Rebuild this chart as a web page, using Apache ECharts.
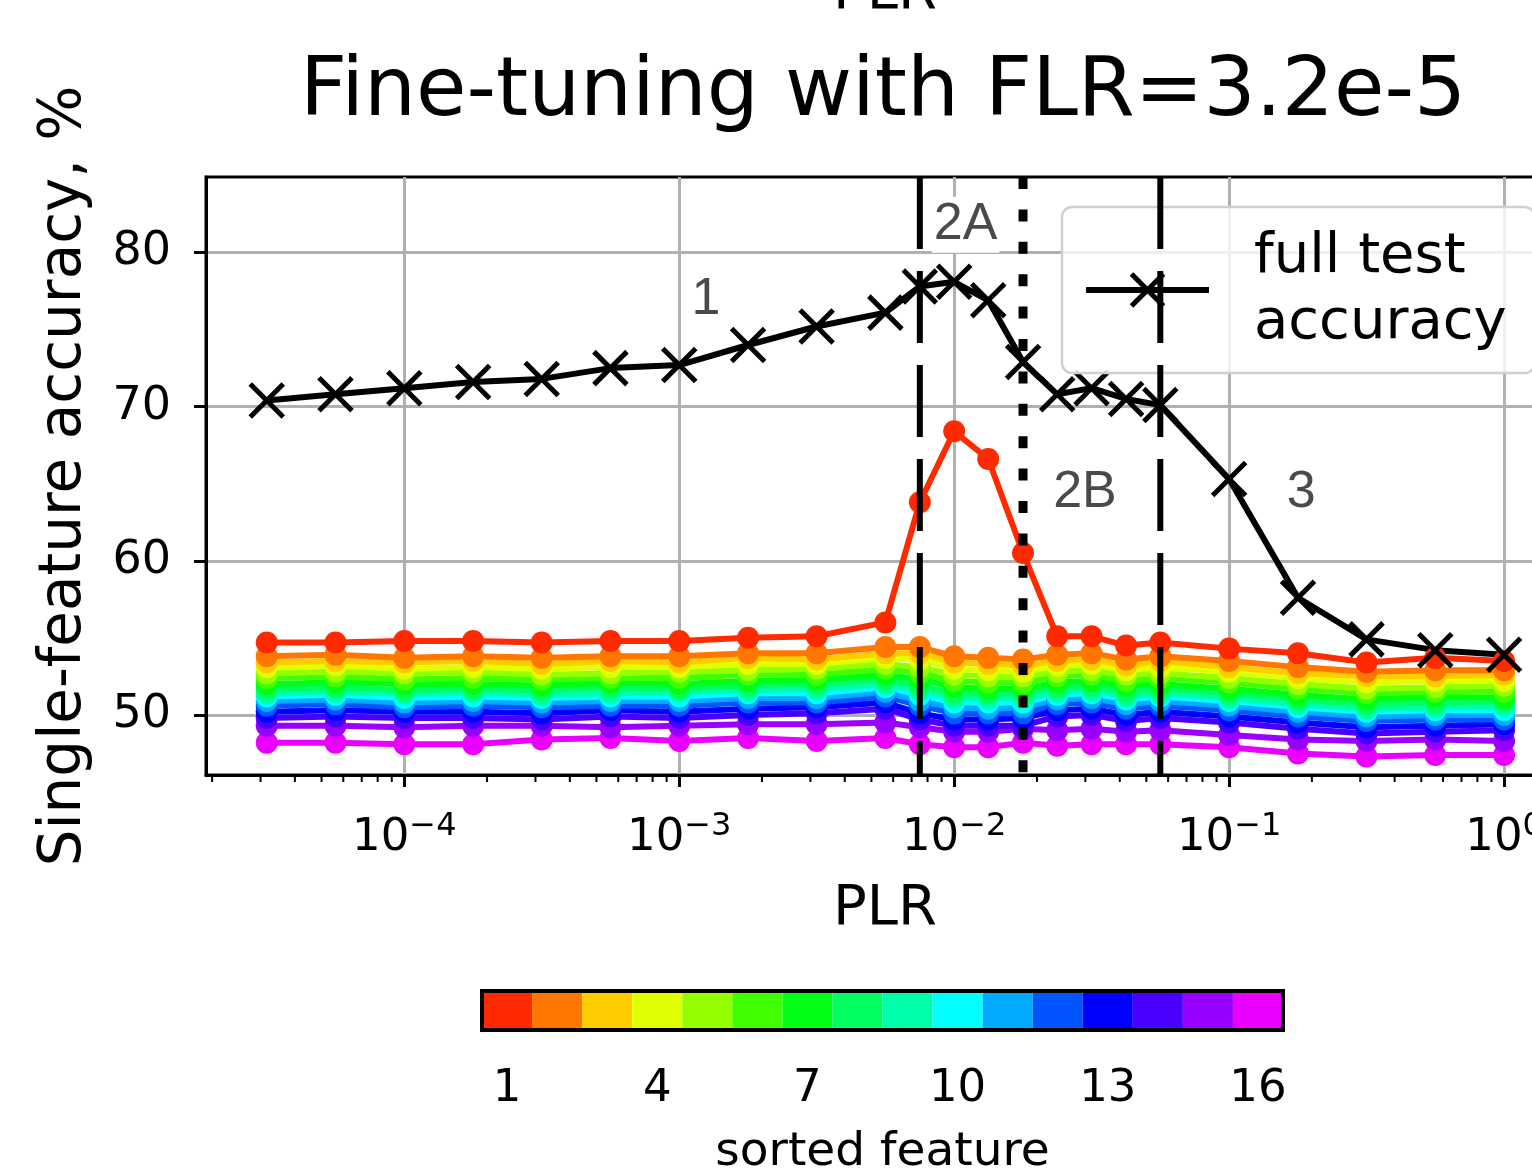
<!DOCTYPE html>
<html>
<head>
<meta charset="utf-8">
<script src="https://cdn.jsdelivr.net/npm/echarts@6/dist/echarts.min.js"></script>
<style>html,body{margin:0;padding:0;background:#fff}#chart{width:1532px;height:1174px}</style>
</head>
<body>
<div id="chart"></div>
<script>
// PLR values (x)
var plr = [3.16e-5, 5.62e-5, 1e-4, 1.78e-4, 3.16e-4, 5.62e-4, 1e-3, 1.78e-3, 3.16e-3, 5.62e-3,
    7.5e-3, 1e-2, 1.33e-2, 1.78e-2, 2.37e-2, 3.16e-2, 4.22e-2, 5.62e-2, 0.1, 0.178, 0.316, 0.562, 1];
// full test accuracy
var fullAcc = [70.4, 70.8, 71.2, 71.6, 71.8, 72.5, 72.7, 74.0, 75.2, 76.1, 77.8, 78.1, 76.9, 72.9,
    70.8, 71.2, 70.5, 70.1, 65.3, 57.6, 54.9, 54.2, 53.9];
// single feature accuracies, sorted feature 1..16
var f1 = [54.7, 54.7, 54.8, 54.8, 54.7, 54.8, 54.8, 55.0, 55.1, 56.0, 63.8, 68.4, 66.6, 60.5, 55.1, 55.1, 54.5, 54.7, 54.3, 54.0, 53.4, 53.7, 53.5];
var f2 = [53.8, 53.9, 53.7, 53.8, 53.7, 53.8, 53.8, 54.0, 54.0, 54.4, 54.4, 53.8, 53.7, 53.6, 53.9, 54.0, 53.6, 53.8, 53.5, 53.1, 52.8, 52.9, 52.9];
var f3 = [53.4, 53.5, 53.4, 53.5, 53.3, 53.5, 53.4, 53.7, 53.6, 54.0, 54.0, 53.4, 53.3, 53.2, 53.5, 53.6, 53.2, 53.5, 53.1, 52.7, 52.5, 52.5, 52.6];
var f4 = [53.1, 53.2, 53.0, 53.1, 53.0, 53.1, 53.1, 53.3, 53.3, 53.7, 53.6, 53.0, 52.9, 52.8, 53.2, 53.3, 52.9, 53.1, 52.8, 52.4, 52.1, 52.2, 52.2];
var f5 = [52.7, 52.8, 52.7, 52.8, 52.6, 52.7, 52.8, 52.9, 53.0, 53.3, 53.1, 52.6, 52.5, 52.5, 52.8, 52.9, 52.6, 52.7, 52.4, 52.0, 51.7, 51.8, 51.9];
var f6 = [52.4, 52.5, 52.3, 52.4, 52.3, 52.4, 52.4, 52.6, 52.6, 53.0, 52.7, 52.2, 52.1, 52.1, 52.5, 52.6, 52.2, 52.4, 52.1, 51.7, 51.4, 51.5, 51.5];
var f7 = [52.0, 52.1, 52.0, 52.0, 51.9, 52.1, 52.0, 52.2, 52.3, 52.6, 52.3, 51.8, 51.7, 51.7, 52.1, 52.2, 51.9, 52.0, 51.7, 51.3, 51.0, 51.2, 51.1];
var f8 = [51.7, 51.8, 51.6, 51.7, 51.6, 51.8, 51.7, 51.9, 52.0, 52.3, 51.9, 51.4, 51.4, 51.4, 51.8, 51.9, 51.5, 51.7, 51.4, 51.0, 50.7, 50.8, 50.9];
var f9 = [51.4, 51.5, 51.4, 51.5, 51.3, 51.4, 51.5, 51.6, 51.7, 52.0, 51.6, 51.1, 51.1, 51.1, 51.5, 51.6, 51.2, 51.4, 51.1, 50.7, 50.4, 50.5, 50.6];
var f10 = [51.2, 51.3, 51.1, 51.2, 51.1, 51.2, 51.2, 51.4, 51.4, 51.8, 51.3, 50.8, 50.8, 50.8, 51.3, 51.4, 51.0, 51.2, 50.9, 50.5, 50.2, 50.3, 50.3];
var f11 = [50.9, 51.0, 50.8, 50.9, 50.8, 50.9, 50.9, 51.1, 51.1, 51.5, 50.9, 50.5, 50.4, 50.5, 51.0, 51.1, 50.7, 50.9, 50.6, 50.2, 49.9, 50.0, 50.0];
var f12 = [50.6, 50.7, 50.5, 50.6, 50.5, 50.6, 50.6, 50.8, 50.8, 51.2, 50.6, 50.1, 50.1, 50.1, 50.7, 50.8, 50.4, 50.6, 50.3, 49.9, 49.6, 49.7, 49.7];
var f13 = [50.2, 50.3, 50.2, 50.2, 50.1, 50.3, 50.2, 50.4, 50.5, 50.8, 50.1, 49.7, 49.7, 49.8, 50.3, 50.4, 50.0, 50.2, 49.9, 49.5, 49.2, 49.3, 49.4];
var f14 = [49.8, 49.9, 49.8, 49.8, 49.7, 49.9, 49.8, 50.0, 50.1, 50.4, 49.7, 49.3, 49.3, 49.3, 49.9, 50.0, 49.6, 49.8, 49.5, 49.1, 48.8, 48.9, 49.0];
var f15 = [49.3, 49.3, 49.2, 49.3, 49.3, 49.2, 49.3, 49.4, 49.4, 49.5, 49.2, 48.9, 48.9, 49.1, 49.0, 49.1, 48.9, 49.0, 48.7, 48.4, 48.3, 48.4, 48.3];
var f16 = [48.2, 48.2, 48.1, 48.1, 48.4, 48.5, 48.3, 48.5, 48.3, 48.5, 48.1, 47.9, 47.9, 48.2, 48.0, 48.1, 48.1, 48.1, 47.9, 47.5, 47.3, 47.4, 47.4];
var feats = [f1, f2, f3, f4, f5, f6, f7, f8, f9, f10, f11, f12, f13, f14, f15, f16];
var featColors = ['#ff2a00', '#ff7700', '#ffcc00', '#e0ff00', '#95ff00', '#40ff00', '#00ff15', '#00ff5f',
    '#00ffaa', '#00ffff', '#00aaff', '#0055ff', '#0000ff', '#4a00ff', '#9900ff', '#ea00ff'];
var featLabels = ['1', '2', '3', '4', '5', '6', '7', '8', '9', '10', '11', '12', '13', '14', '15', '16'];
// phase boundaries
var dashedAt = [7.5e-3, 5.62e-2];
var dottedAt = [1.78e-2];
// region labels
var regions = [[1.25e-3, 76.95, '1'], [1.1e-2, 81.8, '2A'], [2.99e-2, 64.45, '2B'], [0.183, 64.45, '3']];
var xMajor = [1e-4, 1e-3, 1e-2, 1e-1, 1];
var yMajor = [50, 60, 70, 80];

// axes run a little past the right edge of the picture
var X_MIN = 1.9e-5, X_MAX = 1.652, Y_MIN = 46.1, Y_MAX = 84.9;
var FONT = 'DejaVu Sans';

function pair(ys) {
    var out = [];
    for (var i = 0; i < plr.length; i++) out.push([plr[i], ys[i]]);
    return out;
}
var minor = [];
for (var d = -5; d <= 0; d++) {
    for (var m = 2; m <= 9; m++) {
        var v = m * Math.pow(10, d);
        if (v > X_MIN && v < X_MAX) minor.push([v, Y_MIN]);
    }
}

var series = [];
for (var k = feats.length - 1; k >= 0; k--) {
    series.push({
        type: 'line', name: 'f' + (k + 1), data: pair(feats[k]),
        symbol: 'circle', symbolSize: 22, showSymbol: true,
        lineStyle: { color: featColors[k], width: 6 },
        itemStyle: { color: featColors[k] },
        silent: true, animation: false
    });
}
series.push({
    type: 'line', name: 'full test\naccuracy', data: pair(fullAcc),
    symbol: 'path://M0,0L10,10M10,0L0,10', symbolSize: 33,
    lineStyle: { color: '#000', width: 6 },
    itemStyle: { color: '#000', borderColor: '#000', borderWidth: 5 },
    z: 3, animation: false
});
dashedAt.forEach(function (v) {
    series.push({
        type: 'line', data: [[v, Y_MAX], [v, Y_MIN]], symbol: 'none',
        lineStyle: { color: '#000', width: 6, type: [72, 22], cap: 'butt' }, z: 4, animation: false
    });
});
dottedAt.forEach(function (v) {
    series.push({
        type: 'line', data: [[v, Y_MAX], [v, Y_MIN]], symbol: 'none',
        lineStyle: { color: '#000', width: 9, type: [12, 20.4], cap: 'butt' }, z: 4, animation: false
    });
});
series.push({
    type: 'scatter', data: regions, symbolSize: 1, itemStyle: { color: 'transparent' }, z: 5,
    label: {
        show: true, position: 'inside', formatter: function (p) { return p.value[2]; },
        fontFamily: 'Liberation Sans', fontSize: 52, color: '#4a4a4a', opacity: 1,
        textBorderWidth: 0, backgroundColor: '#fff', padding: [2, 2]
    },
    animation: false
});
series.push({
    type: 'custom', data: minor, clip: false, z: 3,
    renderItem: function (params, api) {
        var p = api.coord([api.value(0), api.value(1)]);
        return { type: 'line', shape: { x1: p[0], y1: p[1], x2: p[0], y2: p[1] + 7 }, style: { stroke: '#000', lineWidth: 2 } };
    },
    animation: false
});
series.push({
    type: 'bar', xAxisIndex: 1, yAxisIndex: 1, barWidth: '100%',
    data: featColors.map(function (c) { return { value: 1, itemStyle: { color: c } }; }),
    animation: false
});

var chart = echarts.init(document.getElementById('chart'));
chart.setOption({
    backgroundColor: '#fff',
    title: {
        text: 'Fine-tuning with FLR=3.2e-5', left: 300, top: 53, padding: 0,
        textStyle: { fontFamily: FONT, fontSize: 82, fontWeight: 'normal', color: '#000' }
    },
    graphic: [{
        type: 'text', style: { x: 885, y: 21, text: 'PLR', align: 'center', verticalAlign: 'bottom', font: '56px "DejaVu Sans"', fill: '#000' }
    }],
    legend: {
        data: ['full test\naccuracy'], left: 1062, top: 207, orient: 'vertical',
        padding: [17, 28, 17, 21], itemWidth: 123, itemHeight: 40,
        backgroundColor: 'rgba(255,255,255,0.8)', borderColor: '#d0d0d0', borderWidth: 2.5, borderRadius: 10,
        lineStyle: { color: '#000', width: 6 },
        itemStyle: { color: '#000', borderColor: '#000', borderWidth: 5 },
        textStyle: { fontFamily: FONT, fontSize: 56, lineHeight: 66, color: '#000', padding: [0, 0, 0, 40] }
    },
    grid: [
        { left: 206, top: 177, width: 1358, height: 598, show: true, borderColor: '#000', borderWidth: 3, outerBoundsMode: 'none' },
        { left: 482, top: 991, width: 801, height: 39, show: true, borderColor: '#000', borderWidth: 4, z: 5, outerBoundsMode: 'none' }
    ],
    xAxis: [{
        type: 'log', min: X_MIN, max: X_MAX, gridIndex: 0,
        name: 'PLR', nameLocation: 'middle', nameGap: 106,
        nameTextStyle: { fontFamily: FONT, fontSize: 56, color: '#000' },
        axisLine: { lineStyle: { color: '#000', width: 3 } },
        axisTick: { customValues: xMajor, length: 12, lineStyle: { color: '#000', width: 3 } },
        splitLine: { show: true, lineStyle: { color: '#b0b0b0', width: 3 } },
        axisLabel: {
            customValues: xMajor, margin: 36,
            formatter: function (v) {
                var e = Math.round(Math.log10(v));
                if (Math.abs(Math.log10(v) - e) > 1e-6) return '';
                return '{b|10}{e|' + (e < 0 ? '\u2212' + (-e) : e) + '}';
            },
            rich: {
                b: { fontFamily: FONT, fontSize: 45, color: '#000' },
                e: { fontFamily: FONT, fontSize: 32, color: '#000', padding: [0, 0, 22, 0] }
            }
        }
    }, {
        type: 'category', gridIndex: 1, data: featLabels, boundaryGap: true,
        name: 'sorted feature', nameLocation: 'middle', nameGap: 99,
        nameTextStyle: { fontFamily: FONT, fontSize: 47, color: '#000' },
        axisLine: { show: false },
        axisTick: { alignWithLabel: true, length: 12, interval: function (i) { return i % 3 === 0; }, lineStyle: { color: '#000', width: 3 } },
        axisLabel: { interval: function (i) { return i % 3 === 0; }, margin: 37, fontFamily: FONT, fontSize: 45, color: '#000' }
    }],
    yAxis: [{
        type: 'value', min: Y_MIN, max: Y_MAX, gridIndex: 0,
        name: 'Single-feature accuracy, %', nameLocation: 'middle', nameGap: 112,
        nameTextStyle: { fontFamily: FONT, fontSize: 58, color: '#000' },
        axisLine: { show: true, lineStyle: { color: '#000', width: 3 } },
        axisTick: { show: true, customValues: yMajor, length: 12, lineStyle: { color: '#000', width: 3 } },
        splitLine: { show: true, lineStyle: { color: '#b0b0b0', width: 3 } },
        axisLabel: { customValues: yMajor, margin: 35, fontFamily: FONT, fontSize: 46, color: '#000' }
    }, {
        type: 'value', gridIndex: 1, min: 0, max: 1, show: false
    }],
    series: series
});
</script>
</body>
</html>
